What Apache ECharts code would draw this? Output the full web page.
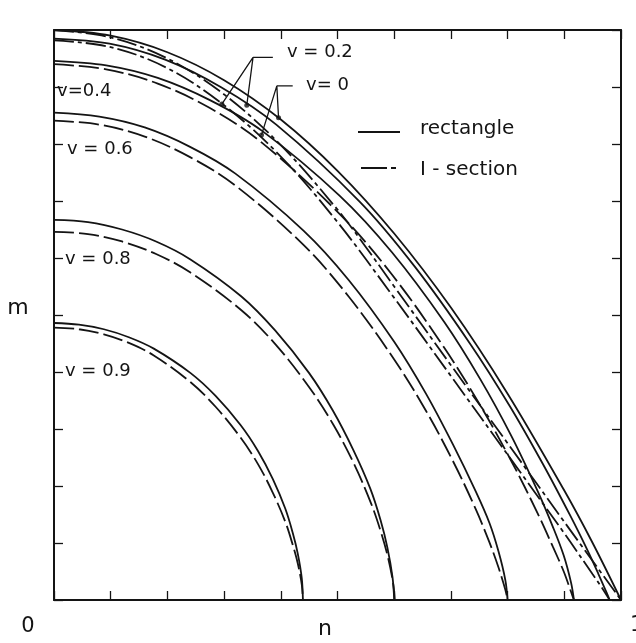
<!DOCTYPE html>
<html>
<head>
<meta charset="utf-8">
<script src="https://cdn.jsdelivr.net/npm/echarts@6/dist/echarts.min.js"></script>
<style>
html, body { margin: 0; padding: 0; background: #fff; }
#main { width: 636px; height: 643px; }
</style>
</head>
<body>
<div id="main"></div>
<script>
var chartDom = document.getElementById('main');
var myChart = echarts.init(chartDom);
var option;

// interaction curves [n, m]
// rectangle (solid)
var rectV0 = [[0, 1.0], [0.1, 0.99], [0.2, 0.961], [0.3, 0.912], [0.4, 0.843], [0.5, 0.753], [0.6, 0.643], [0.7, 0.513], [0.8, 0.362], [0.9, 0.192], [0.95, 0.1], [1.0, 0]];
var rectV02 = [[0, 0.985], [0.098, 0.976], [0.196, 0.948], [0.294, 0.9], [0.392, 0.834], [0.539, 0.699], [0.637, 0.584], [0.735, 0.448], [0.804, 0.34], [0.862, 0.239], [0.911, 0.147], [0.941, 0.087], [0.96, 0.046], [0.975, 0.012], [0.98, 0]];
var rectV04 = [[0, 0.946], [0.092, 0.938], [0.183, 0.916], [0.275, 0.877], [0.367, 0.823], [0.504, 0.709], [0.596, 0.61], [0.688, 0.488], [0.752, 0.387], [0.807, 0.287], [0.853, 0.191], [0.88, 0.128], [0.899, 0.078], [0.912, 0.03], [0.917, 0]];
var rectV06 = [[0, 0.855], [0.08, 0.848], [0.16, 0.829], [0.24, 0.795], [0.32, 0.748], [0.44, 0.648], [0.52, 0.561], [0.6, 0.453], [0.656, 0.362], [0.704, 0.272], [0.744, 0.19], [0.768, 0.135], [0.784, 0.085], [0.796, 0.035], [0.8, 0]];
var rectV08 = [[0, 0.667], [0.06, 0.663], [0.12, 0.65], [0.18, 0.629], [0.24, 0.598], [0.33, 0.533], [0.39, 0.473], [0.45, 0.398], [0.492, 0.332], [0.528, 0.263], [0.558, 0.195], [0.576, 0.14], [0.588, 0.092], [0.597, 0.04], [0.6, 0]];
var rectV09 = [[0, 0.486], [0.044, 0.483], [0.088, 0.475], [0.132, 0.461], [0.176, 0.441], [0.241, 0.398], [0.285, 0.358], [0.329, 0.307], [0.36, 0.261], [0.386, 0.212], [0.408, 0.16], [0.421, 0.118], [0.43, 0.081], [0.437, 0.038], [0.439, 0]];

// I - section (dashed)
var iV0 = [[0, 1.0], [0.1, 0.987], [0.2, 0.95], [0.3, 0.887], [0.4, 0.798], [0.5, 0.685], [0.545, 0.626], [0.6, 0.55], [0.7, 0.412], [0.8, 0.275], [0.9, 0.137], [1.0, 0]];
var iV02 = [[0, 0.982], [0.1, 0.97], [0.2, 0.933], [0.3, 0.868], [0.4, 0.778], [0.5, 0.663], [0.6, 0.53], [0.7, 0.393], [0.8, 0.255], [0.9, 0.117], [0.95, 0.045], [0.97, 0.016], [0.98, 0]];
var iV04 = [[0, 0.94], [0.092, 0.931], [0.183, 0.906], [0.275, 0.863], [0.367, 0.802], [0.504, 0.677], [0.596, 0.571], [0.688, 0.443], [0.752, 0.341], [0.807, 0.243], [0.853, 0.152], [0.88, 0.093], [0.899, 0.05], [0.912, 0.014], [0.917, 0]];
var iV06 = [[0, 0.841], [0.08, 0.834], [0.16, 0.813], [0.24, 0.777], [0.32, 0.727], [0.44, 0.623], [0.52, 0.532], [0.6, 0.422], [0.656, 0.332], [0.704, 0.243], [0.744, 0.159], [0.768, 0.101], [0.784, 0.057], [0.796, 0.018], [0.8, 0]];
var iV08 = [[0, 0.646], [0.06, 0.642], [0.12, 0.629], [0.18, 0.607], [0.24, 0.575], [0.331, 0.508], [0.391, 0.448], [0.451, 0.372], [0.493, 0.307], [0.529, 0.239], [0.559, 0.17], [0.577, 0.118], [0.589, 0.075], [0.598, 0.03], [0.601, 0]];
var iV09 = [[0, 0.478], [0.044, 0.475], [0.088, 0.466], [0.132, 0.451], [0.176, 0.429], [0.241, 0.382], [0.285, 0.339], [0.329, 0.285], [0.36, 0.238], [0.386, 0.188], [0.408, 0.137], [0.421, 0.097], [0.43, 0.064], [0.437, 0.027], [0.439, 0]];

// pointer lines for the v = 0.2 and v = 0 labels
var leaderV02 = [[0.296, 0.870], [0.351, 0.952], [0.340, 0.868]];
var leaderV02Bar = [[0.351, 0.952], [0.386, 0.952]];
var leaderV0 = [[0.366, 0.816], [0.393, 0.902], [0.396, 0.846]];
var leaderV0Bar = [[0.393, 0.902], [0.421, 0.902]];
var leaderDots = [[0.296, 0.870], [0.340, 0.868], [0.366, 0.816], [0.396, 0.846]];

var ink = '#141414';
var font = 'DejaVu Sans';
var dashI = [20, 5];
var dashDotI = [20, 4, 4, 4];

function curve(name, data, dash) {
  return {
    name: name,
    type: 'line',
    data: data,
    smooth: 0.35,
    symbol: 'none',
    silent: true,
    lineStyle: { color: ink, width: 1.8, type: dash || 'solid' }
  };
}

function pointer(data) {
  return {
    type: 'line',
    data: data,
    symbol: 'none',
    silent: true,
    lineStyle: { color: ink, width: 1.3 }
  };
}

function label(text, x, y, size, align) {
  return {
    type: 'text',
    x: x,
    y: y,
    style: {
      text: text,
      fontSize: size,
      fontFamily: font,
      fill: ink,
      align: align || 'left',
      verticalAlign: 'middle'
    }
  };
}

function key(x1, x2, y, dash) {
  return {
    type: 'line',
    shape: { x1: x1, y1: y, x2: x2, y2: y },
    style: { stroke: ink, lineWidth: 1.8, lineDash: dash || null }
  };
}

function frameAxis(pos) {
  return {
    type: 'value',
    min: 0,
    max: 1,
    interval: 0.1,
    position: pos,
    axisLine: { show: true, onZero: false, lineStyle: { color: ink, width: 2 } },
    axisTick: { show: true, inside: true, length: 9, lineStyle: { color: ink, width: 1.3 } },
    axisLabel: { show: false },
    splitLine: { show: false }
  };
}

option = {
  animation: false,
  backgroundColor: '#fff',
  grid: { left: 54, right: 15, top: 30, bottom: 43 },
  xAxis: [frameAxis('bottom'), frameAxis('top')],
  yAxis: [frameAxis('left'), frameAxis('right')],
  series: [
    curve('I - section', iV0, dashDotI),
    curve('I - section', iV02, dashDotI),
    curve('I - section', iV04, dashI),
    curve('I - section', iV06, dashI),
    curve('I - section', iV08, dashI),
    curve('I - section', iV09, dashI),
    curve('rectangle', rectV0),
    curve('rectangle', rectV02),
    curve('rectangle', rectV04),
    curve('rectangle', rectV06),
    curve('rectangle', rectV08),
    curve('rectangle', rectV09),
    pointer(leaderV02),
    pointer(leaderV02Bar),
    pointer(leaderV0),
    pointer(leaderV0Bar),
    {
      type: 'scatter',
      data: leaderDots,
      symbol: 'circle',
      symbolSize: 5,
      silent: true,
      itemStyle: { color: ink }
    }
  ],
  graphic: [
    key(358, 400, 132),
    label('rectangle', 420, 129, 20),
    key(361, 397, 168, [26, 4, 5, 4]),
    label('I - section', 420, 170, 20),
    label('v=0.4', 57, 91, 18),
    label('v = 0.6', 67, 149, 18),
    label('v = 0.8', 65, 259, 18),
    label('v = 0.9', 65, 371, 18),
    label('v = 0.2', 287, 52, 18),
    label('v= 0', 306, 85, 18),
    label('0', 28, 627, 21, 'center'),
    label('n', 325, 629, 22, 'center'),
    label('m', 18, 308, 22, 'center'),
    label('1', 630, 626, 21, 'left')
  ]
};

option && myChart.setOption(option);
</script>
</body>
</html>
